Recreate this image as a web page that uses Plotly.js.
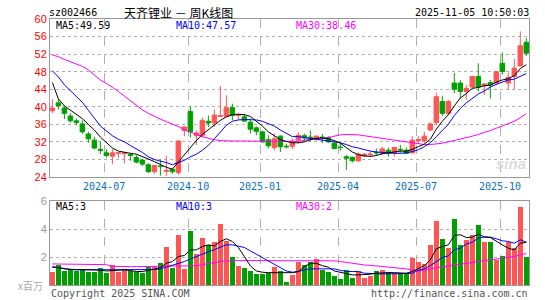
<!DOCTYPE html>
<html><head><meta charset="utf-8">
<script src="https://cdn.plot.ly/plotly-3.0.1.min.js"></script>
<style>html,body{margin:0;padding:0;background:#fff}#chart{width:545px;height:300px}</style>
</head><body><div id="chart"></div>
<script>
// ---- data (weekly bars, index 0 = week of 2024-04-29) ----
const opens  = [39.1,40.9,39.7,37.9,36.8,36.1,33.8,32.4,30.3,29.5, 28.75,29.4,29.3,29.1,28.45,27.85,26.8,25.2,26.5,25.3, 25.75,25.0,34.6,38.9,33.4,33.5,36.7,36.3,37.8,37.8, 39.8,38.0,37.7,36.5,35.2,34.3,32.5,30.7,33.3,31.0, 31.0,32.4,33.4,33.1,32.6,33.1,33.0,31.7,30.8,28.6, 28.5,27.7,28.8,29.1,29.6,29.4,30.1,29.5,30.3,30.1, 29.5,32.3,32.3,34.7,36.4,41.2,38.5,45.4,45.4,43.5, 44.5,46.9,44.8,45.5,45.4,49.9,45.4,46.9,49.3,54.7];
const highs  = [41.7,41.7,40.0,38.5,37.3,36.9,34.3,33.2,32.0,30.3, 30.3,29.6,29.7,29.5,29.0,28.15,27.1,26.7,28.0,28.8, 25.9,32.3,35.5,40.1,34.6,37.5,38.0,39.4,44.7,42.6, 40.7,38.6,38.4,37.3,35.5,34.4,33.5,33.9,33.5,31.6, 32.8,34.2,33.9,34.6,33.5,33.8,33.3,31.9,31.7,29.0, 28.6,29.6,29.5,29.75,30.5,30.9,30.7,30.9,31.3,30.7, 33.3,33.3,34.3,36.4,43.2,42.5,41.6,47.7,46.1,45.0, 47.05,49.9,45.4,46.1,48.0,52.4,47.8,50.9,57.2,55.7];
const lows   = [38.6,39.4,37.2,36.4,35.8,33.8,31.8,30.3,29.2,28.45, 26.9,28.3,27.1,27.7,27.1,26.5,24.96,24.7,24.3,24.2, 24.7,24.5,33.3,33.0,31.3,33.0,35.4,35.4,37.7,37.7, 36.9,37.0,36.5,33.9,33.5,31.8,30.5,30.1,29.7,30.5, 30.4,31.6,32.1,32.1,32.3,31.7,31.8,30.3,30.0,25.6, 27.3,27.4,28.6,28.6,28.8,29.0,28.6,28.6,29.5,29.2, 29.4,31.7,31.7,34.5,35.8,37.9,38.1,43.1,41.9,41.6, 44.2,43.5,42.7,41.9,45.0,47.3,43.8,44.0,49.2,51.6];
const closes = [39.7,40.2,38.5,36.8,36.4,34.3,32.7,30.6,30.1,28.9, 29.5,29.5,29.5,28.9,27.4,26.95,25.2,26.6,26.4,25.5, 25.2,32.2,35.4,34.3,34.0,36.9,36.3,38.1,37.95,39.8, 38.0,38.1,36.75,34.9,34.4,32.0,31.1,32.7,30.9,30.9, 32.2,33.5,32.9,32.9,33.3,32.9,32.0,30.5,30.7,28.3, 27.7,29.2,29.2,29.2,29.5,30.4,29.4,30.7,30.2,29.4, 32.4,32.5,33.3,36.1,42.3,38.5,41.2,44.0,43.5,44.2, 46.9,44.5,45.2,45.0,48.0,48.0,46.7,48.8,53.9,52.2];
const ma5  = [45.5,41.8,40.2,39.2,38.4,37.3,36.0,34.7,33.1,31.8, 30.6,29.9,29.6,29.4,29.2,28.7,28.1,27.5,26.8,26.2, 25.8,27.4,29.2,30.8,32.3,33.7,34.8,35.8,36.9,37.7, 38.2,38.3,38.2,37.8,36.8,35.6,34.3,33.5,32.5,32.1, 31.8,31.8,32.0,32.5,32.8,32.9,32.7,32.3,31.7,30.7, 29.7,29.1,28.8,28.7,28.9,29.3,29.5,29.7,29.9,29.9, 30.3,30.9,31.5,32.6,34.9,36.7,38.2,40.2,42.0,43.0, 44.2,44.4,44.8,44.9,45.6,46.1,46.4,47.1,48.7,49.59];
const ma10 = [48.2,46.8,45.0,43.7,42.4,41.0,39.2,37.4,35.6,34.5, 33.4,32.6,32.0,31.2,30.4,29.6,28.6,28.0,27.6,27.3, 26.8,27.3,27.8,28.6,29.2,30.1,31.2,32.7,34.3,35.8, 36.7,37.0,37.1,37.1,37.0,36.7,36.2,35.6,34.7,33.9, 33.2,33.2,33.0,32.8,32.7,32.5,32.3,32.0,31.8,31.4, 30.9,30.6,30.2,29.9,29.7,29.6,29.4,29.4,29.4,29.5, 29.8,30.2,30.9,31.8,33.2,34.6,36.0,38.0,39.6,40.9, 42.0,42.9,43.6,44.5,45.1,45.6,46.1,46.3,47.0,47.57];
const ma30 = [51.8,51.4,50.8,50.3,49.8,49.2,48.4,47.3,46.1,45.3, 44.5,43.5,42.4,41.3,40.3,39.3,38.5,37.8,37.2,36.6, 36.1,35.5,34.8,34.2,33.7,33.2,32.8,32.5,32.3,32.2, 32.2,32.2,32.2,32.2,32.2,32.1,32.1,32.1,32.1,32.1, 32.1,32.1,32.4,32.7,32.8,32.8,33.0,33.3,33.6,33.7, 33.7,33.6,33.4,33.2,33.0,32.8,32.6,32.4,32.2,31.9, 31.7,31.5,31.4,31.4,31.5,31.7,32.0,32.3,32.7,33.0, 33.3,33.7,34.1,34.6,35.1,35.6,36.1,36.7,37.5,38.46];
const volume = [0.95,1.45,1.02,1.10,1.05,1.12,0.98,0.98,1.24,0.88, 1.45,0.95,1.07,1.05,0.93,0.90,1.31,1.31,1.60,2.76, 1.26,3.60,1.17,3.90,2.24,3.40,2.88,3.07,4.38,3.17, 2.05,1.40,1.24,1.02,0.81,0.81,0.90,1.33,1.02,0.24, 0.74,1.69,1.45,1.67,1.88,1.10,0.93,0.67,0.45,1.10, 0.52,1.02,0.52,0.67,1.02,1.10,0.95,0.86,0.88,0.88, 1.95,1.69,1.52,2.88,4.55,3.33,2.69,4.74,2.88,3.21, 3.57,4.31,3.07,3.07,1.81,2.10,3.05,2.69,5.55,1.98];
const vma5  = [1.29,1.26,1.17,1.12,1.12,1.12,1.12,1.10,1.08,1.02, 1.05,1.07,1.10,1.05,0.98,0.98,1.05,1.15,1.26,1.57, 1.69,2.05,2.12,2.52,2.52,2.76,2.88,2.80,3.12,3.31, 3.12,2.69,2.05,1.38,1.02,0.93,0.90,0.90,0.90,0.90, 0.90,0.98,1.33,1.57,1.57,1.40,1.29,1.02,0.93,0.79, 0.74,0.74,0.74,0.79,0.86,0.90,0.90,0.90,0.88,0.86, 0.98,1.21,1.40,1.81,2.60,2.76,2.88,3.55,3.60,3.40, 3.43,3.64,3.45,3.40,3.12,2.88,2.64,2.52,3.00,3.05];
const vma10 = [1.33,1.25,1.17,1.12,1.10,1.10,1.10,1.10,1.10,1.10, 1.10,1.10,1.10,1.10,1.07,1.07,1.10,1.12,1.17,1.30, 1.40,1.57,1.69,1.88,2.05,2.21,2.40,2.57,2.76,2.88, 2.88,2.76,2.69,2.45,2.21,1.93,1.69,1.45,1.21,1.02, 0.93,0.98,1.10,1.17,1.17,1.17,1.17,1.17,1.07,0.98, 0.98,0.98,0.86,0.83,0.83,0.81,0.81,0.81,0.81,0.86, 0.86,1.07,1.17,1.40,1.69,1.98,2.10,2.52,2.64,2.93, 3.07,3.36,3.43,3.43,3.31,3.17,3.12,3.00,3.24,3.07];
const vma30 = [1.52,1.52,1.50,1.50,1.50,1.50,1.50,1.50,1.50,1.47, 1.35,1.33,1.33,1.33,1.33,1.33,1.33,1.33,1.33,1.33, 1.33,1.36,1.38,1.38,1.40,1.45,1.57,1.60,1.69,1.74, 1.76,1.76,1.76,1.76,1.76,1.76,1.76,1.76,1.76,1.75, 1.75,1.76,1.76,1.76,1.76,1.76,1.76,1.74,1.69,1.62, 1.57,1.52,1.45,1.42,1.38,1.33,1.30,1.26,1.22,1.17, 1.08,1.02,1.07,1.17,1.26,1.31,1.38,1.45,1.52,1.57, 1.62,1.69,1.74,1.79,1.88,1.93,2.00,2.05,2.17,2.26];
const monthStartBar = [9, 23, 35, 48, 61, 75];
const monthLabels = ['2024-07','2024-10','2025-01','2025-04','2025-07','2025-10'];
const priceTicks = [24,28,32,36,40,44,48,52,56,60];
const volTicks = [2,4,6];
const stockCode = 'sz002466';
const chartTitle = '天齐锂业 － 周K线图';
const timeStamp = '2025-11-05 10:50:03';

// ---- drawing ----
const RED = '#ff5555', GREEN = '#00a000';
const W = 545, H = 300;
const px = v => v / W, py = v => 1 - v / H;
const idx = closes.map((_, i) => i);
const volColors = idx.map(i => closes[i] >= opens[i] ? RED : GREEN);
const mono = 'DejaVu Sans Mono, Liberation Mono, monospace';
const gridX = monthStartBar.map(b => b - 0.38);

const traces = [
  {type:'candlestick', x: idx, open: opens, high: highs, low: lows, close: closes,
   xaxis:'x', yaxis:'y', whiskerwidth: 0, hoverinfo:'skip',
   increasing:{line:{color:RED, width:1}, fillcolor:RED},
   decreasing:{line:{color:GREEN, width:1}, fillcolor:GREEN}},
  {type:'scatter', mode:'lines', x: idx, y: ma30, xaxis:'x', yaxis:'y', line:{color:'#ff00ff', width:1}, hoverinfo:'skip'},
  {type:'scatter', mode:'lines', x: idx, y: ma10, xaxis:'x', yaxis:'y', line:{color:'#0000ff', width:1}, hoverinfo:'skip'},
  {type:'scatter', mode:'lines', x: idx, y: ma5,  xaxis:'x', yaxis:'y', line:{color:'#000000', width:1}, hoverinfo:'skip'},
  {type:'bar', x: idx, y: volume, xaxis:'x2', yaxis:'y2', width: 0.78, marker:{color: volColors, line:{width:0}}, hoverinfo:'skip'},
  {type:'scatter', mode:'lines', x: idx, y: vma30, xaxis:'x2', yaxis:'y2', line:{color:'#ff00ff', width:1}, hoverinfo:'skip'},
  {type:'scatter', mode:'lines', x: idx, y: vma10, xaxis:'x2', yaxis:'y2', line:{color:'#0000ff', width:1}, hoverinfo:'skip'},
  {type:'scatter', mode:'lines', x: idx, y: vma5,  xaxis:'x2', yaxis:'y2', line:{color:'#000000', width:1}, hoverinfo:'skip'}
];

const xCommon = {
  type:'linear', range:[-0.4, 79.45], tickmode:'array', tickvals: gridX,
  showgrid:true, gridcolor:'#b0b0b0', griddash:'dash', gridwidth:1, zeroline:false,
  showline:true, mirror:true, linecolor:'#999', linewidth:1, ticks:'', fixedrange:true,
  rangeslider:{visible:false}
};
const annFont = (c, s) => ({family: mono, size: s || 10, color: c});
const ann = (text, x, y, xanchor, font) => ({text, x: px(x), y: py(y), xref:'paper', yref:'paper', xanchor, yanchor:'middle', showarrow:false, font, borderpad:0});

const lastMa = a => a[a.length - 1];
const layout = {
  width: W, height: H, margin:{l:0, r:0, t:0, b:0}, paper_bgcolor:'#fff', plot_bgcolor:'#fff',
  showlegend:false, dragmode:false, bargap:0, boxgap:0.25, boxgroupgap:0,
  xaxis: Object.assign({}, xCommon, {domain:[px(50), px(529)], anchor:'y',
    ticktext: monthLabels, showticklabels:true, tickfont:{family: mono, size:10, color:'#0a6fc2'}}),
  yaxis: {domain:[py(177), py(19)], range:[24, 60], tickmode:'array', tickvals: priceTicks,
    ticktext: priceTicks.map(String), showgrid:true, gridcolor:'#b0b0b0', griddash:'dot', zeroline:false,
    showline:true, mirror:true, linecolor:'#999', linewidth:1, ticks:'',
    tickfont:{family:'Liberation Sans, Arial, sans-serif', size:11, color:'#ff0000'}, fixedrange:true},
  xaxis2: Object.assign({}, xCommon, {domain:[px(50), px(529)], anchor:'y2', matches:'x',
    ticktext: monthLabels.map(() => ''), showticklabels:false}),
  yaxis2: {domain:[py(285.3), py(201)], range:[0, 6], tickmode:'array', tickvals: volTicks,
    ticktext: volTicks.map(String), showgrid:true, gridcolor:'#b0b0b0', griddash:'dot', zeroline:false,
    showline:true, mirror:true, linecolor:'#999', linewidth:1, ticks:'',
    tickfont:{family:'Liberation Sans, Arial, sans-serif', size:11, color:'#999'}, fixedrange:true},
  annotations: [
    ann(stockCode, 48, 12, 'left', annFont('#000')),
    ann(chartTitle, 178, 12, 'center', {family:'Noto Sans CJK SC, sans-serif', size:12, color:'#000'}),
    ann(timeStamp, 530, 12, 'right', annFont('#000')),
    ann('MA5:' + lastMa(ma5).toFixed(2), 55, 25, 'left', annFont('#000')),
    ann('MA10:' + lastMa(ma10).toFixed(2), 175, 25, 'left', annFont('#0000ff')),
    ann('MA30:' + lastMa(ma30).toFixed(2), 295, 25, 'left', annFont('#ff00ff')),
    ann('MA5:' + Math.round(lastMa(vma5)), 55, 207, 'left', annFont('#000')),
    ann('MA10:' + Math.round(lastMa(vma10)), 175, 207, 'left', annFont('#0000ff')),
    ann('MA30:' + Math.round(lastMa(vma30)), 295, 207, 'left', annFont('#ff00ff')),
    ann('x百万', 44, 285, 'right', {family:'Noto Sans CJK SC, sans-serif', size:10, color:'#aaa'}),
    ann('Copyright 2025 SINA.COM', 50, 293, 'left', annFont('#555')),
    ann('http://finance.sina.com.cn', 529, 293, 'right', annFont('#555')),
    ann('<i><b>sina</b></i>', 527, 163, 'right', {family:'Liberation Sans, Arial, sans-serif', size:15, color:'#dcdcdc'})
  ]
};
Plotly.newPlot('chart', traces, layout, {staticPlot:true, displayModeBar:false});
</script></body></html>
